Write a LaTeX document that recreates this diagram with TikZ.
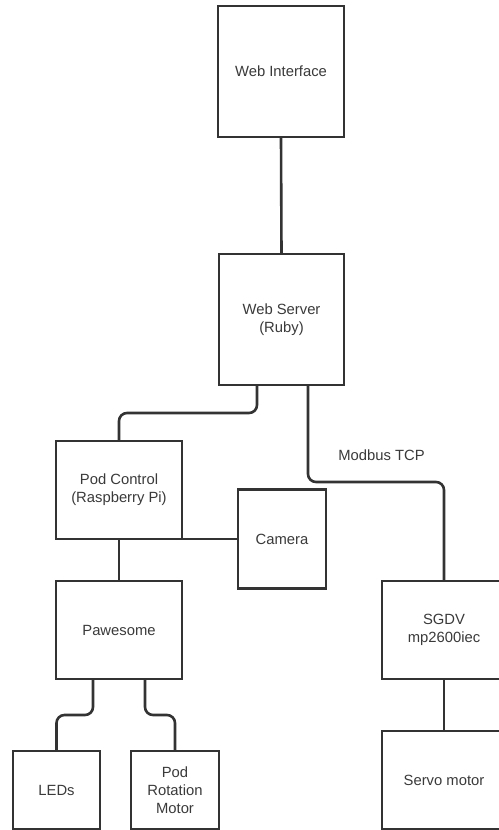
\documentclass[tikz,border=0pt]{standalone}
\usepackage{fontspec}
\setmainfont{Liberation Sans}
\definecolor{ink}{HTML}{333333}
\definecolor{txt}{HTML}{3A3A3A}
\begin{document}
\begin{tikzpicture}[x=1pt,y=-1pt,
  box/.style={draw=ink, line width=2.2pt, fill=white, inner sep=0pt, align=center,
    text=txt, font=\fontsize{14.8}{18}\selectfont},
  conn/.style={draw=ink, line width=2.6pt, rounded corners=8pt},
  lbl/.style={text=txt, font=\fontsize{14.8}{18}\selectfont}]
\useasboundingbox (0,0) rectangle (498,830);
\fill[white] (0,0) rectangle (498,830);
\coordinate (wsL) at (257,385);
\coordinate (wsR) at (308,385);
\coordinate (pwL) at (93,679);
\coordinate (pwR) at (145,679);
\node[box, minimum width=126pt, minimum height=131pt] (wi) at (281,71.5) {Web Interface};
\node[box, minimum width=125pt, minimum height=131pt] (ws) at (281.5,319.5) {Web Server\\(Ruby)};
\node[box, minimum width=126pt, minimum height=98pt] (pc) at (119,490) {Pod Control\\(Raspberry Pi)};
\node[box, minimum width=88pt, minimum height=99pt] (cam) at (282,539) {Camera};
\node[box, minimum width=126pt, minimum height=98pt] (paw) at (119,630) {Pawesome};
\node[box, minimum width=87pt, minimum height=78pt] (leds) at (56.5,790) {LEDs};
\node[box, minimum width=88pt, minimum height=78pt] (rot) at (175,790) {Pod\\Rotation\\Motor};
\node[box, minimum width=124pt, minimum height=98pt] (sgdv) at (444,630) {SGDV\\mp2600iec};
\node[box, minimum width=124pt, minimum height=98pt] (servo) at (444,780) {Servo motor};
\node[lbl] (modbus) at (381.5,455) {Modbus TCP};
\draw[conn] (wi.south) -- (ws.north);
\draw[conn] (wsL) -- ++(0,28) -| (pc.north);
\draw[conn] (wsR) -- ++(0,97) -| (sgdv.north);
\draw[conn] (pc.south) -- (paw.north);
\draw[conn] (cam.west) -- (cam.west -| pc.east);
\draw[conn] (pwL) -- ++(0,36) -| (leds.north);
\draw[conn] (pwR) -- ++(0,36) -| (rot.north);
\draw[conn] (sgdv.south) -- (servo.north);
\end{tikzpicture}
\end{document}
